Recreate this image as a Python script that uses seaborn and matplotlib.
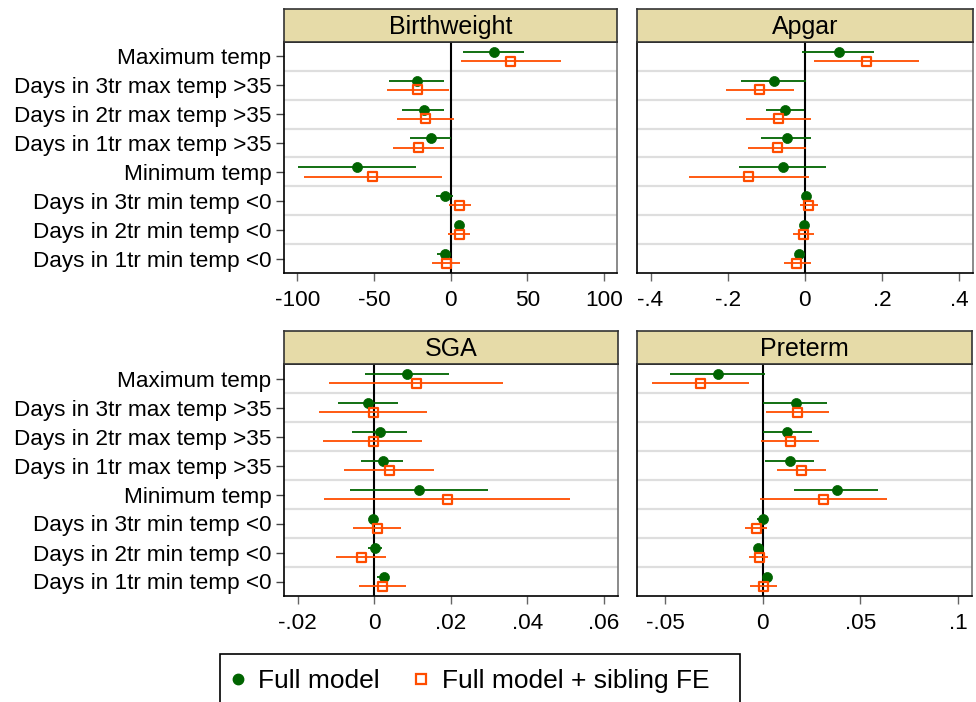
import numpy as np
import pandas as pd
import matplotlib
matplotlib.use("Agg")
import matplotlib.pyplot as plt
from matplotlib.lines import Line2D
from matplotlib.patches import Rectangle
import seaborn as sns

# ---------------- data ----------------
categories = ["Maximum temp", "Days in 3tr max temp >35", "Days in 2tr max temp >35",
              "Days in 1tr max temp >35", "Minimum temp", "Days in 3tr min temp <0",
              "Days in 2tr min temp <0", "Days in 1tr min temp <0"]
models = ["Full model", "Full model + sibling FE"]
outcomes = ["Birthweight", "Apgar", "SGA", "Preterm"]

bw_full = [28.5, -21.7, -17.4, -12.8, -60.9, -3.9, 5.7, -3.9]
bw_full_lo = [7.8, -40.4, -31.5, -26.5, -99.3, -9.8, 3.6, -8.7]
bw_full_hi = [48.0, -4.1, -4.1, 0.0, -22.8, 1.3, 7.8, -0.9]
bw_sib = [39.3, -21.7, -16.5, -20.9, -51.1, 5.9, 5.9, -2.8]
bw_sib_lo = [6.7, -41.7, -35.2, -37.4, -95.7, -0.9, -1.7, -12.2]
bw_sib_hi = [72.0, -1.1, 2.2, -4.1, -5.9, 13.5, 12.8, 6.3]

ap_full = [0.0875, -0.081, -0.051, -0.047, -0.056, 0.003, -0.003, -0.016]
ap_full_lo = [-0.007, -0.166, -0.101, -0.114, -0.171, -0.002, -0.008, -0.023]
ap_full_hi = [0.1785, 0.004, -0.003, 0.016, 0.055, 0.008, 0.002, -0.009]
ap_sib = [0.159, -0.117, -0.068, -0.070, -0.145, 0.010, -0.003, -0.021]
ap_sib_lo = [0.024, -0.205, -0.152, -0.147, -0.301, -0.012, -0.030, -0.055]
ap_sib_hi = [0.296, -0.028, 0.015, 0.004, 0.010, 0.033, 0.024, 0.016]

sga_full = [0.0085, -0.0015, 0.0016, 0.0023, 0.0118, -0.0003, 0.0003, 0.0025]
sga_full_lo = [-0.0023, -0.0095, -0.0057, -0.0034, -0.0062, -0.0011, -0.0015, 0.0006]
sga_full_hi = [0.0194, 0.0063, 0.0086, 0.0074, 0.0296, 0.0011, 0.0020, 0.0037]
sga_sib = [0.0110, -0.0003, -0.0003, 0.0039, 0.0192, 0.0008, -0.0033, 0.0021]
sga_sib_lo = [-0.0117, -0.0143, -0.0133, -0.0078, -0.0130, -0.0055, -0.0100, -0.0041]
sga_sib_hi = [0.0335, 0.0137, 0.0126, 0.0157, 0.0512, 0.0071, 0.0032, 0.0082]

pt_full = [-0.0229, 0.0171, 0.0126, 0.0138, 0.0380, 0.0000, -0.0026, 0.0020]
pt_full_lo = [-0.0473, 0.0000, 0.0002, 0.0010, 0.0160, -0.0030, -0.0046, 0.0002]
pt_full_hi = [0.0014, 0.0331, 0.0253, 0.0261, 0.0592, 0.0020, -0.0005, 0.0039]
pt_sib = [-0.0321, 0.0179, 0.0142, 0.0198, 0.0311, -0.0034, -0.0019, 0.0002]
pt_sib_lo = [-0.0568, 0.0019, -0.0009, 0.0073, -0.0014, -0.0089, -0.0070, -0.0065]
pt_sib_hi = [-0.0072, 0.0340, 0.0288, 0.0326, 0.0635, 0.0020, 0.0029, 0.0072]

xticks_bw = [-100, -50, 0, 50, 100]
xticklabels_bw = ["-100", "-50", "0", "50", "100"]
xticks_ap = [-0.4, -0.2, 0, 0.2, 0.4]
xticklabels_ap = ["-.4", "-.2", "0", ".2", ".4"]
xticks_sga = [-0.02, 0, 0.02, 0.04, 0.06]
xticklabels_sga = ["-.02", "0", ".02", ".04", ".06"]
xticks_pt = [-0.05, 0, 0.05, 0.1]
xticklabels_pt = ["-.05", "0", ".05", ".1"]

rows = []
for name, f, flo, fhi, s, slo, shi in [
        ("Birthweight", bw_full, bw_full_lo, bw_full_hi, bw_sib, bw_sib_lo, bw_sib_hi),
        ("Apgar", ap_full, ap_full_lo, ap_full_hi, ap_sib, ap_sib_lo, ap_sib_hi),
        ("SGA", sga_full, sga_full_lo, sga_full_hi, sga_sib, sga_sib_lo, sga_sib_hi),
        ("Preterm", pt_full, pt_full_lo, pt_full_hi, pt_sib, pt_sib_lo, pt_sib_hi)]:
    for i, c in enumerate(categories):
        rows.append(dict(outcome=name, category=c, idx=i, model=models[0], est=f[i], lo=flo[i], hi=fhi[i]))
        rows.append(dict(outcome=name, category=c, idx=i, model=models[1], est=s[i], lo=slo[i], hi=shi[i]))
df = pd.DataFrame(rows)

# ---------------- style ----------------
sns.set_theme(style="white")
plt.rcParams["font.family"] = ["Liberation Sans", "DejaVu Sans"]
plt.rcParams["text.color"] = "black"
plt.rcParams["xtick.labelcolor"] = "black"
plt.rcParams["ytick.labelcolor"] = "black"
FS = 16.2
GREEN = "#006400"
ORANGE = "#ff4d00"
STRIP = "#e6dba8"
offsets = {models[0]: -0.16, models[1]: 0.16}
colors = {models[0]: GREEN, models[1]: ORANGE}

W, H = 976, 702
fig = plt.figure(figsize=(W / 100, H / 100), dpi=100)

def fr(x0, y0, x1, y1):
    return [x0 / W, 1 - y1 / H, (x1 - x0) / W, (y1 - y0) / H]

panels = {
    "Birthweight": dict(box=(284, 42, 617, 273), strip=9, xlim=(-108.6, 108.4),
                        ticks=xticks_bw, labels=xticklabels_bw, ylab=True),
    "Apgar": dict(box=(637, 42, 973, 273), strip=9, xlim=(-0.435, 0.4356),
                  ticks=xticks_ap, labels=xticklabels_ap, ylab=False),
    "SGA": dict(box=(284, 364, 618, 596), strip=331, xlim=(-0.02356, 0.06366),
                ticks=xticks_sga, labels=xticklabels_sga, ylab=True),
    "Preterm": dict(box=(637, 364, 972, 596), strip=331, xlim=(-0.0644, 0.1072),
                    ticks=xticks_pt, labels=xticklabels_pt, ylab=False),
}

for name in outcomes:
    p = panels[name]
    x0, y0, x1, y1 = p["box"]
    ax = fig.add_axes(fr(x0, y0, x1, y1))
    sub = df[df.outcome == name].copy()
    sub["y"] = sub["idx"] + sub["model"].map(offsets)

    for b in np.arange(0.5, len(categories) - 0.5, 1.0):
        ax.axhline(b, color="#dedede", lw=1.6, zorder=0)
    ax.axvline(0, color="black", lw=1.5, zorder=1)

    for m in models:
        d = sub[sub.model == m]
        ax.hlines(d["y"], d["lo"], d["hi"], colors=colors[m], lw=1.3, zorder=2)
    d = sub[sub.model == models[0]]
    sns.scatterplot(data=d, x="est", y="y", ax=ax, color=GREEN, marker="o",
                    s=52, edgecolor=GREEN, linewidth=0.5, zorder=3, legend=False)
    d = sub[sub.model == models[1]]
    sns.scatterplot(data=d, x="est", y="y", ax=ax, color=ORANGE, marker="s",
                    s=42, facecolor="none", edgecolor=ORANGE, linewidth=1.6,
                    zorder=4, legend=False)

    ax.set_xlim(*p["xlim"])
    ax.set_ylim(len(categories) - 0.5, -0.5)
    ax.set_xticks(p["ticks"])
    ax.set_xticklabels(p["labels"], fontsize=FS)
    ax.set_xlabel("")
    ax.set_ylabel("")
    if p["ylab"]:
        ax.set_yticks(range(len(categories)))
        ax.set_yticklabels(categories, fontsize=FS)
        ax.tick_params(axis="y", length=6, width=1, color="#444444", pad=3, left=True)
    else:
        ax.set_yticks([])
    ax.tick_params(axis="x", length=6, width=1, color="#666666", pad=6, bottom=True)
    for sp in ax.spines.values():
        sp.set_color("black")
        sp.set_linewidth(1.2)
    ax.spines["right"].set_color("#777777")

    sax = fig.add_axes(fr(x0, p["strip"], x1, y0))
    sax.set_facecolor(STRIP)
    sax.set_xticks([])
    sax.set_yticks([])
    for sp in sax.spines.values():
        sp.set_color("#333333")
        sp.set_linewidth(1.2)
    sax.text(0.5, 0.45, name, ha="center", va="center", fontsize=FS + 1.8,
             transform=sax.transAxes)

# legend: frame drawn as a rectangle, entries via fig.legend
fig.patches.append(Rectangle((220 / W, 1 - 712 / H), 520 / W, 58 / H, transform=fig.transFigure,
                             facecolor="white", edgecolor="black", lw=1.2, zorder=0))
LFS = 19
handles = [
    Line2D([], [], marker="o", ls="none", color=GREEN, markersize=7.5),
    Line2D([], [], marker="s", ls="none", markerfacecolor="none", markeredgecolor=ORANGE,
           markeredgewidth=1.6, markersize=6.5),
]
leg = fig.legend(handles, models, loc="center left", bbox_to_anchor=(227 / W, 1 - 681 / H),
                 ncol=2, frameon=False, fontsize=LFS, borderpad=0, handletextpad=0.36,
                 columnspacing=1.2, handlelength=0.8, borderaxespad=0)
for t in leg.get_texts():
    t.set_color("black")

fig.savefig("out.png", dpi=100)
